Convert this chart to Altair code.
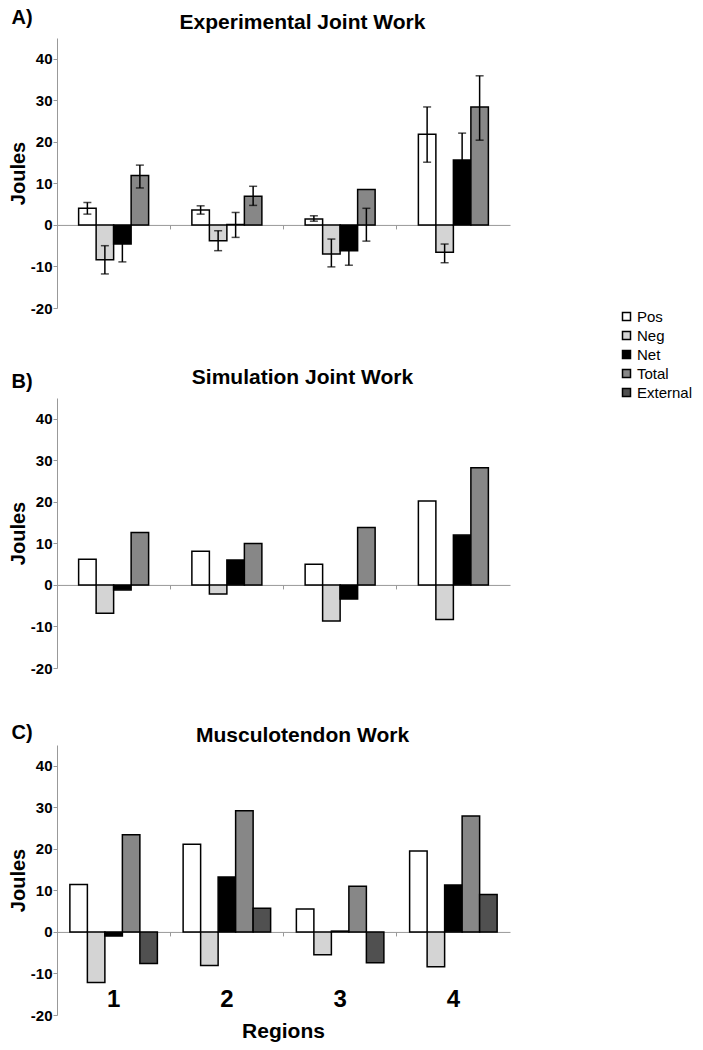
import altair as alt
import pandas as pd

regions = ["1", "2", "3", "4"]
series_all = ["Pos", "Neg", "Net", "Total", "External"]
series_joint = ["Pos", "Neg", "Net", "Total"]
fill_colors = ["#ffffff", "#d4d4d4", "#000000", "#878787", "#505050"]
y_ticks = [-20, -10, 0, 10, 20, 30, 40]

# A) Experimental joint work
exp_pos = [4.0, 3.6, 1.4, 21.8]
exp_neg = [-8.4, -3.8, -7.0, -6.6]
exp_net = [-4.6, 0.1, -6.2, 15.6]
exp_total = [11.9, 6.9, 8.5, 28.4]
# error bar ends
exp_pos_lo = [2.6, 2.6, 0.9, 15.1]
exp_pos_hi = [5.4, 4.6, 2.2, 28.4]
exp_neg_lo = [-11.8, -6.2, -10.1, -9.1]
exp_neg_hi = [-5.0, -1.4, -3.4, -4.6]
exp_net_lo = [-8.9, -3.0, -9.7, 9.1]
exp_net_hi = [-0.3, 3.0, -2.7, 22.1]
exp_total_lo = [8.9, 4.7, -3.9, 20.4]
exp_total_hi = [14.4, 9.3, 4.0, 35.9]

# B) Simulation joint work
sim_pos = [6.2, 8.1, 5.0, 20.2]
sim_neg = [-6.8, -2.2, -8.7, -8.3]
sim_net = [-1.2, 6.0, -3.4, 12.0]
sim_total = [12.6, 10.0, 13.8, 28.2]

# C) Musculotendon work
mt_pos = [11.4, 21.1, 5.5, 19.5]
mt_neg = [-12.2, -8.1, -5.5, -8.4]
mt_net = [-1.0, 13.2, 0.2, 11.3]
mt_total = [23.4, 29.2, 11.0, 27.9]
mt_ext = [-7.6, 5.7, -7.4, 9.0]


def long_df(d):
    rows = []
    for s, vals in d.items():
        for r, v in zip(regions, vals):
            rows.append({"region": r, "series": s, "value": v})
    return pd.DataFrame(rows)


def err_df(d):
    rows = []
    for s, (lo, hi) in d.items():
        for r, a, b in zip(regions, lo, hi):
            rows.append({"region": r, "series": s, "lo": a, "hi": b})
    return pd.DataFrame(rows)


df_exp = long_df({"Pos": exp_pos, "Neg": exp_neg, "Net": exp_net, "Total": exp_total})
df_exp_err = err_df({"Pos": (exp_pos_lo, exp_pos_hi), "Neg": (exp_neg_lo, exp_neg_hi),
                     "Net": (exp_net_lo, exp_net_hi), "Total": (exp_total_lo, exp_total_hi)})
df_sim = long_df({"Pos": sim_pos, "Neg": sim_neg, "Net": sim_net, "Total": sim_total})
df_mt = long_df({"Pos": mt_pos, "Neg": mt_neg, "Net": mt_net, "Total": mt_total, "External": mt_ext})

W, H = 453, 270
FONT = "Liberation Sans, Arial, sans-serif"
Y0_OFF = -H * 20 / 65
BAR_W = 17.5

legend = alt.Legend(orient="none", legendX=562, legendY=271, title=None, symbolType="square",
                    symbolSize=64, symbolStrokeColor="black", symbolStrokeWidth=1.5, symbolOpacity=1,
                    labelFont=FONT, labelFontSize=15, labelColor="black", rowPadding=3,
                    labelOffset=3, padding=0)

yscale = alt.Scale(domain=[-20, 45], nice=False)
yaxis = alt.Axis(values=y_ticks, title="Joules", grid=False, domainColor="#999999", domainWidth=1,
                 tickColor="#999999", tickSize=4, labelFont=FONT, labelFontSize=15,
                 labelExpr="'' + datum.value",
                 labelFontWeight="bold", labelColor="black", labelPadding=1, titleFont=FONT,
                 titleFontSize=20, titleFontWeight="bold", titleColor="black", titlePadding=2)


def text_layer(txt, size, x, y):
    return alt.Chart(pd.DataFrame({"t": [txt]})).mark_text(
        font=FONT, fontSize=size, fontWeight="bold", align="center", baseline="alphabetic",
        color="black").encode(x=alt.value(x), y=alt.value(y), text="t:N")


def panel(df, series, title, title_y, letter, letter_y, err=None, bottom=False):
    slots = list(series)
    if len(slots) < 5:
        slots = ["_l"] + slots + ["_r"]
    n = len(slots)
    po = (W / 4 / BAR_W - n) / 2
    xaxis = alt.Axis(title=None, labels=False, offset=Y0_OFF, bandPosition=0, domainColor="#999999",
                     domainWidth=1, tickColor="#999999", tickSize=4, tickWidth=1, grid=False)
    x = alt.X("region:N", sort=regions, scale=alt.Scale(domain=regions, paddingInner=0, paddingOuter=0),
              axis=xaxis)
    xo = alt.XOffset("series:N", sort=slots,
                     scale=alt.Scale(domain=slots, paddingInner=0, paddingOuter=po))
    color = alt.Color("series:N", scale=alt.Scale(domain=series_all, range=fill_colors), legend=legend)
    layers = [
        alt.Chart(df).mark_bar(stroke="black", strokeWidth=1.5).encode(
            x=x, xOffset=xo, y=alt.Y("value:Q", scale=yscale, axis=yaxis), y2=alt.datum(0), color=color)
    ]
    if err is not None:
        layers.append(alt.Chart(err).mark_rule(color="black", strokeWidth=1.5).encode(
            x=x, xOffset=xo, y=alt.Y("lo:Q", scale=yscale, axis=yaxis), y2="hi:Q"))
        for f in ["lo", "hi"]:
            layers.append(alt.Chart(err).mark_tick(color="black", thickness=1.5, size=8).encode(
                x=x, xOffset=xo, y=alt.Y(f + ":Q", scale=yscale, axis=yaxis)))
    layers.append(text_layer(title, 21, W / 2 + 19, title_y))
    layers.append(text_layer(letter, 20, -35, letter_y))
    if bottom:
        layers.append(alt.Chart(pd.DataFrame({"region": regions, "pos": [-16.5] * 4})).mark_text(
            font=FONT, fontSize=24, fontWeight="bold", baseline="middle", color="black"
        ).encode(x=x, y=alt.Y("pos:Q", scale=yscale, axis=yaxis), text="region:N"))
        layers.append(alt.Chart(pd.DataFrame({"t": ["Regions"]})).mark_text(
            font=FONT, fontSize=21, fontWeight="bold", baseline="middle", color="black"
        ).encode(x=alt.value(W / 2), y=alt.value(H + 17), text="t:N"))
    return alt.layer(*layers).properties(width=W, height=H)


pA = panel(df_exp, series_joint, "Experimental Joint Work", -9, "A)", -14, err=df_exp_err)
pB = panel(df_sim, series_joint, "Simulation Joint Work", -14, "B)", -10)
pC = panel(df_mt, series_all, "Musculotendon Work", -3, "C)", -6, bottom=True)

top = alt.vconcat(pA, pB, spacing=51).resolve_scale(x="independent", xOffset="independent")
chart = alt.vconcat(top, pC, spacing=47).resolve_scale(
    x="independent", xOffset="independent"
).properties(padding=0).configure_view(stroke=None)

chart.save("out.html", embed_options={"renderer": "svg", "actions": False})
